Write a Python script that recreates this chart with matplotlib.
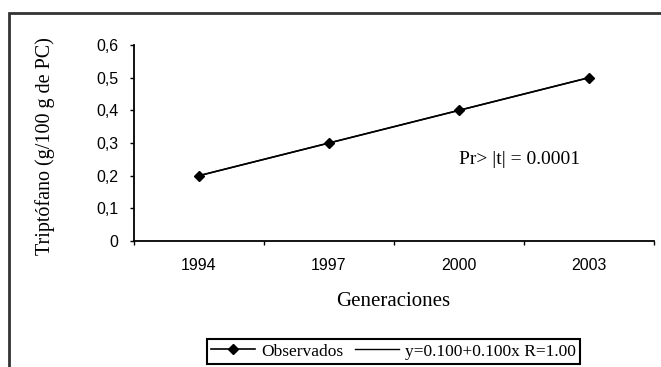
import matplotlib
matplotlib.use('Agg')
import matplotlib.pyplot as plt
from matplotlib.patches import Rectangle
from matplotlib.ticker import FixedLocator, FuncFormatter

# datos
generaciones = ['1994', '1997', '2000', '2003']
observados = [0.2, 0.3, 0.4, 0.5]
ajuste = [0.2, 0.3, 0.4, 0.5]   # y=0.100+0.100x
y_ticks = [0, 0.1, 0.2, 0.3, 0.4, 0.5, 0.6]

serif = 'Liberation Serif'
sans = 'Liberation Sans'

fig = plt.figure(figsize=(6.61, 3.67), dpi=100)
W, H = 661, 367
ax = fig.add_axes([134/W, 1-241/H, 520/W, 196/H])

x = list(range(len(generaciones)))
l1, = ax.plot(x, observados, color='black', lw=1.2, marker='D', markersize=5.5)
l2, = ax.plot(x, ajuste, color='black', lw=1.0)

ax.set_xlim(-0.5, len(generaciones)-0.5)
ax.set_ylim(0, 0.6)

# ejes
for s in ['top', 'right']:
    ax.spines[s].set_visible(False)
for s in ['left', 'bottom']:
    ax.spines[s].set_linewidth(1.3)

ax.xaxis.set_major_locator(FixedLocator([i-0.5 for i in range(len(generaciones)+1)]))
ax.xaxis.set_major_formatter(FuncFormatter(lambda v, p: ''))
ax.xaxis.set_minor_locator(FixedLocator(x))
ax.xaxis.set_minor_formatter(FuncFormatter(lambda v, p: generaciones[int(round(v))]))
ax.tick_params(axis='x', which='major', direction='out', length=3, width=1)
ax.tick_params(axis='x', which='minor', length=0, pad=12, labelsize=11.5)
for t in ax.xaxis.get_minorticklabels():
    t.set_family(sans)

ax.set_yticks(y_ticks)
ax.yaxis.set_major_formatter(FuncFormatter(lambda v, p: '0' if v == 0 else ('%.1f' % v).replace('.', ',')))
ax.tick_params(axis='y', direction='out', length=3, width=1, pad=8, labelsize=11.5)
for t in ax.get_yticklabels():
    t.set_family(sans)

# textos
fig.text(45/W, 1-146/H, 'Triptófano (g/100 g de PC)', rotation=90,
         ha='center', va='center', family=serif, fontsize=14.5)
fig.text(393/W, 1-301/H, 'Generaciones', ha='center', va='center',
         family=serif, fontsize=15)
fig.text(459/W, 1-160/H, 'Pr> |t| = 0.0001', ha='left', va='center',
         family=serif, fontsize=14)

leg = fig.legend([l1, l2], ['Observados', 'y=0.100+0.100x R=1.00'],
                 loc='center', bbox_to_anchor=(393.5/W, 1-351.5/H), ncol=2,
                 prop={'family': serif, 'size': 12.5}, handlelength=2.5,
                 handletextpad=0.35, columnspacing=0.7, borderpad=0.25,
                 borderaxespad=0, fancybox=False, framealpha=1)
leg.get_frame().set_edgecolor('black')
leg.get_frame().set_linewidth(1.5)

# marco exterior
fig.patches.append(Rectangle((9/W, -0.1), 2, 1-13/H+0.1, transform=fig.transFigure,
                             fill=False, edgecolor='#333333', lw=2))

fig.savefig('out.png', dpi=100)
